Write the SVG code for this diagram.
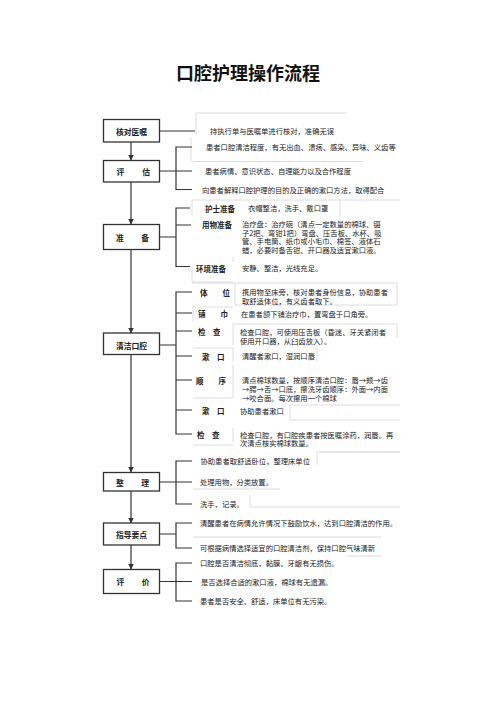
<svg xmlns="http://www.w3.org/2000/svg" width="496" height="702" viewBox="0 0 496 702">
<defs>
<marker id="arr" markerWidth="6" markerHeight="6" refX="5.5" refY="3" orient="auto" markerUnits="userSpaceOnUse">
<path d="M0,0 L6,3 L0,6 Z" fill="#333"/>
</marker>
<style>
text{font-family:"Noto Sans CJK SC","Noto Sans",sans-serif;fill:#222;dominant-baseline:central}
.t{font-size:7.3px}
.lb{font-size:7.5px;font-weight:700}
.bx{font-size:7.8px;font-weight:700}
.box{fill:#fff;stroke:#333;stroke-width:1.3}
.ln{fill:none;stroke:#333;stroke-width:1.2}
.fa{fill:none;stroke:#d4d4d4;stroke-width:0.8}
.title{font-size:18px;font-weight:700;fill:#111}
</style>
</defs>
<rect width="496" height="702" fill="#fff"/>
<text class="title" x="248" y="72" text-anchor="middle">口腔护理操作流程</text>

<g id="faint" class="fa">
<path d="M196,113 H347 M196,113 V135"/>
<path d="M191,138 V161 M193,161.5 H363"/>
<path d="M192,200 H400 M192,200 V215 M340,200 V216"/>
<path d="M233,257 V262 M192,270 V281 M192,282 H233"/>
<path d="M192,283 H235 M235,283 V305 M235,283 H397 V305 H235"/>
<path d="M193,307 H233 M193,307 V322"/>
<path d="M233,324 H397 M233,324 V345 M397,324 V338"/>
<path d="M193,348 H233 M233,348 V362 M317,348 V362"/>
<path d="M233,365 V398 M193,398 H233"/>
<path d="M290,405 H400 M290,405 V420 M290,420 H400"/>
<path d="M233,428 V442 M193,445 H233 M320,452 H400"/>
<path d="M317,452 H400 M317,452 V465"/>
<path d="M193,489 H280 M250,495 V507 H400"/>
<path d="M193,537 H381 M347,556 H381"/>
</g>

<g id="connectors" class="ln">
<line x1="131" y1="142" x2="131" y2="160" marker-end="url(#arr)"/>
<line x1="131" y1="182" x2="131" y2="224" marker-end="url(#arr)"/>
<line x1="131" y1="249.5" x2="131" y2="333" marker-end="url(#arr)"/>
<line x1="131" y1="354" x2="131" y2="472" marker-end="url(#arr)"/>
<line x1="131" y1="491" x2="131" y2="523" marker-end="url(#arr)"/>
<line x1="131" y1="545" x2="131" y2="569" marker-end="url(#arr)"/>
<path d="M159,131 H195"/>
<path d="M192,147 H176 V189.5 H192 M159,171 H192"/>
<path d="M190,208 H176 V266.5 H190 M176,225 H191 M159,237 H176"/>
<path d="M192,292 H176 V434 H192 M176,313 H192 M176,331 H192 M176,356 H192 M176,380 H192 M176,410 H192 M159,345 H176"/>
<path d="M192,461 H176 V504 H192 M159,482 H192"/>
<path d="M192,523 H176 V548 H192 M159,534 H176"/>
<path d="M192,563 H176 V601 H192 M159,581.5 H192"/>
</g>

<g id="n-hedui"><rect class="box" x="103.5" y="119.5" width="56" height="22.5"/><text class="bx" x="131.5" y="131" text-anchor="middle">核对医嘱</text></g>
<g id="n-pinggu"><rect class="box" x="103.5" y="160.5" width="56" height="21.5"/><text class="bx" x="116.5" y="171.3" letter-spacing="0.8">评　　估</text></g>
<g id="n-zhunbei"><rect class="box" x="103.5" y="224.5" width="56" height="25"/><text class="bx" x="116" y="237" letter-spacing="0.6">准　　备</text></g>
<g id="n-qingjie"><rect class="box" x="103.5" y="333" width="56" height="21.5"/><text class="bx" x="131.5" y="345.5" text-anchor="middle">清洁口腔</text></g>
<g id="n-zhengli"><rect class="box" x="103.5" y="472.5" width="56" height="18.5"/><text class="bx" x="116" y="482" letter-spacing="0.6">整　　理</text></g>
<g id="n-zhidao"><rect class="box" x="103.5" y="523" width="56" height="22"/><text class="bx" x="131.5" y="534.5" text-anchor="middle">指导要点</text></g>
<g id="n-pingjia"><rect class="box" x="103.5" y="569.5" width="56" height="24"/><text class="bx" x="116.5" y="581.5" letter-spacing="0.6">评　　价</text></g>

<g id="d-hedui"><text class="t" x="210" y="131">持执行单与医嘱单进行核对，准确无误</text></g>
<g id="d-pinggu">
<text class="t" x="206" y="147">患者口腔清洁程度，有无出血、溃疡、感染、异味、义齿等</text>
<text class="t" x="205" y="171">患者病情、意识状态、自理能力以及合作程度</text>
<text class="t" x="202" y="189.5">向患者解释口腔护理的目的及正确的漱口方法，取得配合</text>
</g>
<g id="d-zhunbei">
<text class="lb" x="205" y="208">护士准备</text>
<text class="t" x="248" y="208">衣帽整洁，洗手、戴口罩</text>
<text class="lb" x="202" y="224.5">用物准备</text>
<text class="t" x="242" y="224">治疗盘：治疗碗（清点一定数量的棉球、镊</text>
<text class="t" x="242" y="232.7">子2把、弯钳1把）弯盘、压舌板、水杯、吸</text>
<text class="t" x="242" y="241.4">管、手电筒、纸巾或小毛巾、棉签、液体石</text>
<text class="t" x="242" y="250.1">蜡，必要时备舌钳、开口器及适宜漱口液。</text>
<text class="lb" x="196" y="268.5">环境准备</text>
<text class="t" x="242" y="267.5">安静、整洁，光线充足。</text>
</g>
<g id="d-qingjie">
<text class="lb" x="200" y="292">体　　位</text>
<text class="t" x="242" y="291.8">携用物至床旁，核对患者身份信息，协助患者</text>
<text class="t" x="242" y="300.6">取舒适体位，有义齿者取下。</text>
<text class="lb" x="198" y="313.5">铺　　巾</text>
<text class="t" x="241" y="313.5">在患者颌下铺治疗巾，置弯盘于口角旁。</text>
<text class="lb" x="198" y="331">检　查</text>
<text class="t" x="240" y="332">检查口腔，可使用压舌板（昏迷、牙关紧闭者</text>
<text class="t" x="240" y="341">使用开口器，从臼齿放入）。</text>
<text class="lb" x="202" y="356">漱　口</text>
<text class="t" x="242" y="356">清醒者漱口，湿润口唇</text>
<text class="lb" x="196" y="380">顺　　序</text>
<text class="t" x="242" y="380">清点棉球数量，按顺序清洁口腔：唇→颊→齿</text>
<text class="t" x="242" y="388.8">→腭→舌→口底，擦洗牙齿顺序：外面→内面</text>
<text class="t" x="242" y="397.6">→咬合面。每次擦用一个棉球</text>
<text class="lb" x="202" y="410">漱　口</text>
<text class="t" x="240" y="411">协助患者漱口</text>
<text class="lb" x="197" y="434.5">检　查</text>
<text class="t" x="240" y="434.5">检查口腔，有口腔疾患者按医嘱涂药，润唇。再</text>
<text class="t" x="240" y="443.3">次清点核实棉球数量。</text>
</g>
<g id="d-zhengli">
<text class="t" x="200.5" y="461">协助患者取舒适卧位，整理床单位</text>
<text class="t" x="200" y="482">处理用物，分类放置。</text>
<text class="t" x="200" y="504">洗手，记录。</text>
</g>
<g id="d-zhidao">
<text class="t" x="200" y="523">清醒患者在病情允许情况下鼓励饮水，达到口腔清洁的作用。</text>
<text class="t" x="200" y="548">可根据病情选择适宜的口腔清洁剂，保持口腔气味清新</text>
</g>
<g id="d-pingjia">
<text class="t" x="200" y="563">口腔是否清洁彻底，黏膜、牙龈有无损伤。</text>
<text class="t" x="201" y="582">是否选择合适的漱口液，棉球有无遗漏。</text>
<text class="t" x="200" y="601">患者是否安全、舒适，床单位有无污染。</text>
</g>
</svg>
